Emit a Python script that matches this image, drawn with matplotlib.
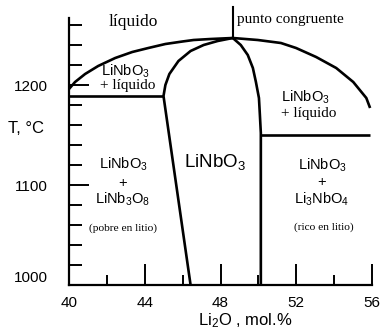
import matplotlib
matplotlib.use("Agg")
import matplotlib.pyplot as plt

plt.rcParams["font.family"] = ["Liberation Sans", "DejaVu Sans"]
plt.rcParams["mathtext.default"] = "regular"

SERIF = ["Liberation Serif", "DejaVu Serif"]

# liquidus (Li2O mol.%, T in C)
liq_x = [40.0, 40.32, 40.85, 41.54, 42.44, 43.34, 44.19, 45.09, 45.99, 46.58, 47.48, 48.65,
         49.97, 51.19, 51.99, 53.05, 54.11, 55.01, 55.7, 55.9]
liq_T = [1196, 1203, 1211, 1219, 1227, 1233, 1237, 1241, 1243.5, 1245, 1246, 1247,
         1245, 1242, 1237, 1228, 1217, 1203, 1187, 1177]

# LiNbO3 field, lithium-poor boundary
left_x = [48.65, 47.85, 47.11, 46.42, 45.78, 45.3, 45.09, 44.99, 46.42]
left_T = [1247, 1244, 1240, 1234, 1224, 1211, 1200, 1189, 1000]

# LiNbO3 field, lithium-rich boundary
right_x = [48.65, 49.07, 49.44, 49.71, 49.87, 50.03, 50.08, 50.13, 50.13]
right_T = [1247, 1240, 1230, 1217, 1203, 1187, 1170, 1152, 1000]

# eutectic lines
eut_left_x, eut_left_T = [40.0, 44.99], [1189, 1189]
eut_right_x, eut_right_T = [50.13, 55.9], [1150, 1150]

# congruent point marker
cong_x, cong_T = [48.65, 48.65], [1247, 1278]

x_major = [40, 44, 48, 52, 56]
x_minor = [42, 46, 50, 54]
y_major = [1100, 1200]
y_minor = [1020, 1040, 1060, 1080, 1120, 1140, 1160, 1180, 1220, 1240, 1260]
y_labels = ["1000", "1100", "1200"]

W, H = 381, 329
fig = plt.figure(figsize=(W / 100, H / 100), dpi=100)
ax = fig.add_axes([69 / W, 44 / H, 303 / W, 267 / H])

lw = 1.9
for xs, ts in [(liq_x, liq_T), (left_x, left_T), (right_x, right_T),
               (eut_left_x, eut_left_T), (eut_right_x, eut_right_T)]:
    ax.plot(xs, ts, color="black", lw=lw, solid_capstyle="butt")
ax.plot(cong_x, cong_T, color="black", lw=1.5, clip_on=False)

ax.set_xlim(40, 56)
ax.set_ylim(1000, 1267)

ax.spines["top"].set_visible(False)
ax.spines["right"].set_visible(False)
for s in ("left", "bottom"):
    ax.spines[s].set_linewidth(1.6)

ax.set_xticks(x_major)
ax.set_xticks(x_minor, minor=True)
ax.set_xticklabels([str(v) for v in x_major], fontsize=11)
ax.set_yticks(y_major)
ax.set_yticks(y_minor, minor=True)
ax.set_yticklabels([])
ax.tick_params(axis="x", which="major", direction="in", length=15, width=1.4, pad=8)
ax.tick_params(axis="x", which="minor", direction="in", length=7.5, width=1.4)
ax.tick_params(axis="y", which="major", direction="in", length=14.5, width=1.4)
ax.tick_params(axis="y", which="minor", direction="in", length=9.5, width=1.4)

# y tick labels placed by hand (slightly offset in the original)
for lab, py in zip(y_labels, [278, 187, 87]):
    fig.text(48 / W, 1 - py / H, lab, ha="right", va="center", fontsize=11)

fig.text(26 / W, 1 - 128 / H, "T, °C", ha="center", va="center", fontsize=12)
fig.text(245 / W, 1 - 325 / H, "Li$_2$O , mol.%", ha="center", va="baseline", fontsize=12)

# region labels
ax.text(43.38, 1263, "líquido", family=SERIF, fontsize=12.5, ha="center", va="center")
ax.text(48.87, 1266, "punto congruente", family=SERIF, fontsize=11, ha="left", va="center",
        clip_on=False)

ax.text(42.96, 1209, "LiNbO$_3$", fontsize=10.5, ha="center", va="baseline")
ax.text(43.1, 1196, "+ líquido", family=SERIF, fontsize=11, ha="center", va="baseline")

ax.text(52.46, 1183, "LiNbO$_3$", fontsize=10.5, ha="center", va="baseline")
ax.text(52.67, 1168, "+ líquido", family=SERIF, fontsize=11, ha="center", va="baseline")

ax.text(47.71, 1118, "LiNbO$_3$", fontsize=13.5, ha="center", va="baseline")

ax.text(42.85, 1116, "LiNbO$_3$", fontsize=10.5, ha="center", va="baseline")
ax.text(42.85, 1098, "+", fontsize=10.5, ha="center", va="baseline")
ax.text(42.85, 1081, "LiNb$_3$O$_8$", fontsize=10.5, ha="center", va="baseline")
ax.text(42.85, 1054, "(pobre en litio)", family=SERIF, fontsize=8.2, ha="center", va="baseline")

ax.text(53.36, 1115, "LiNbO$_3$", fontsize=10.5, ha="center", va="baseline")
ax.text(53.36, 1099, "+", fontsize=10.5, ha="center", va="baseline")
ax.text(53.36, 1081, "Li$_3$NbO$_4$", fontsize=10.5, ha="center", va="baseline")
ax.text(53.44, 1055, "(rico en litio)", family=SERIF, fontsize=8.2, ha="center", va="baseline")

fig.savefig("out.png", dpi=100)
